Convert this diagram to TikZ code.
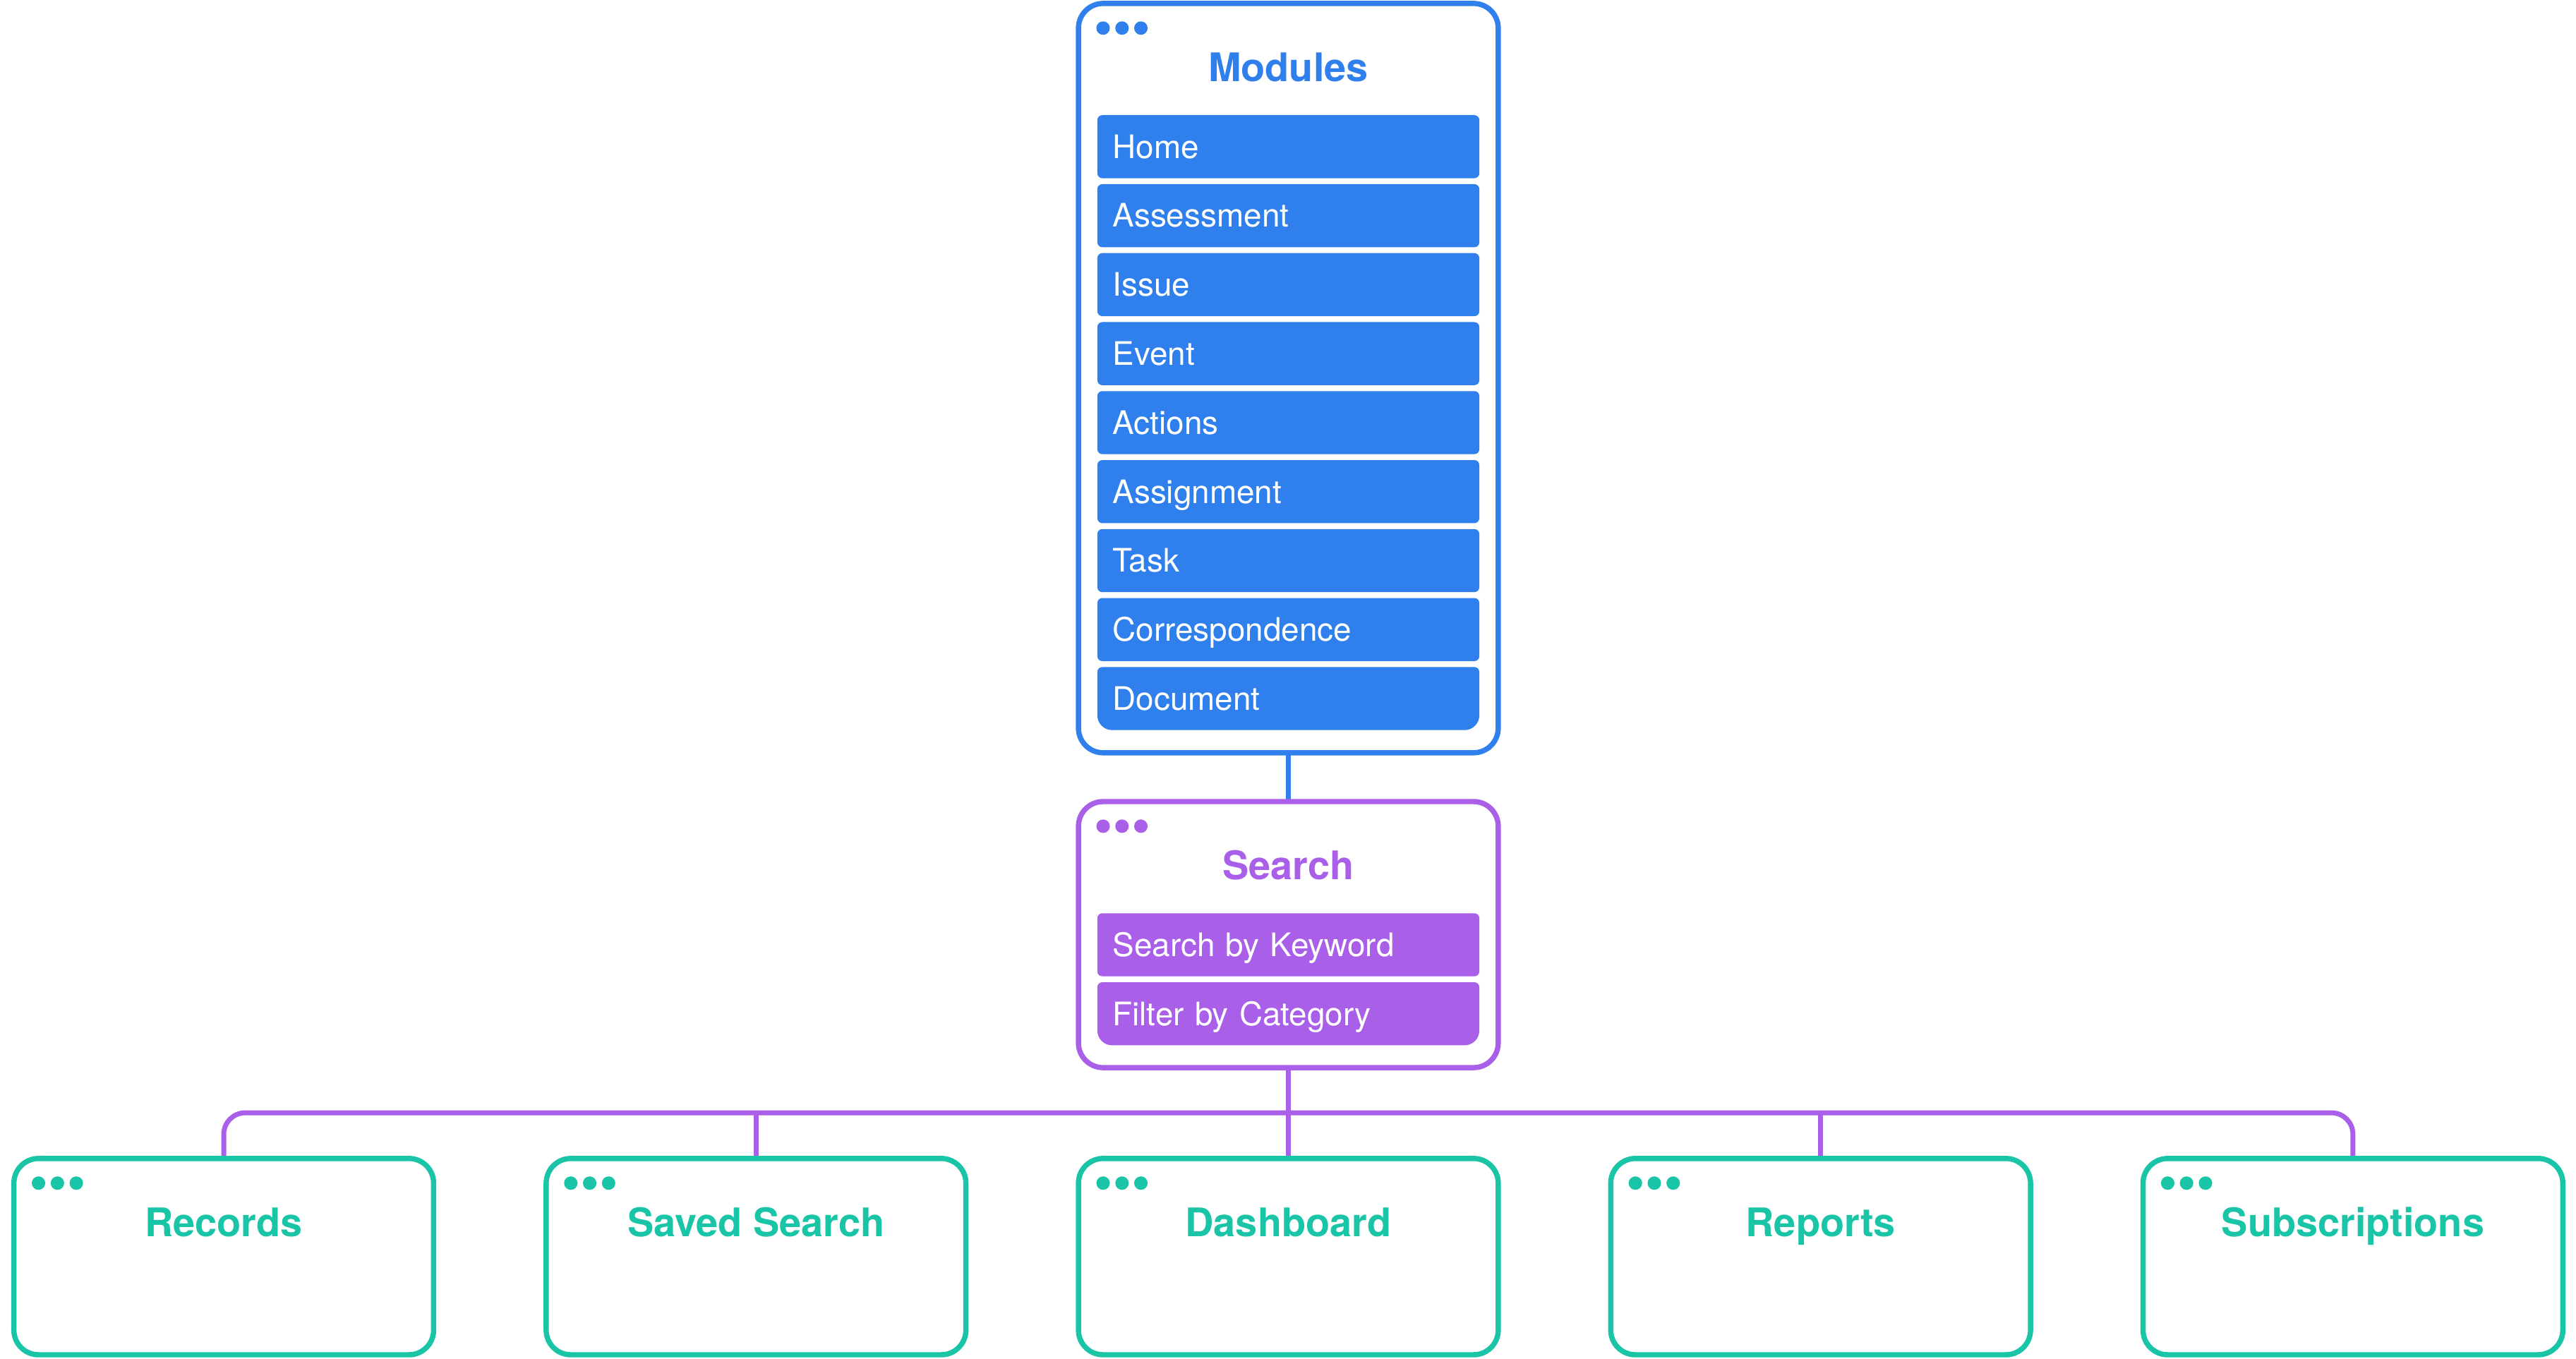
\documentclass[tikz,border=0pt]{standalone}
\usepackage{fontspec}
\setmainfont{TeX Gyre Heros}
\usetikzlibrary{positioning,backgrounds}
\definecolor{cmod}{HTML}{2F80ED}
\definecolor{csrch}{HTML}{A95FE8}
\definecolor{cview}{HTML}{1AC4A7}
\newcommand{\wdots}[2]{\foreach \d in {15pt,26.5pt,38pt}{\fill[#2] ([shift={(\d,-15pt)}]#1.north west) circle (4.1pt);}}
\tikzset{
	win/.style={draw=#1, line width=3.2pt, rounded corners=15pt, minimum width=255.5pt, inner sep=0pt, outer sep=0pt},
	item/.style={fill=#1, text=white, rounded corners=3pt, minimum width=232.5pt, minimum height=38.4pt,
		text width=213.9pt, inner xsep=9.3pt, inner ysep=0pt, outer sep=0pt, align=left,
		text height=14pt, text depth=0pt, font=\fontsize{19.7}{23}\selectfont},
	ttl/.style={text=#1, anchor=base, font=\bfseries\fontsize{24}{28}\selectfont},
	conn/.style={draw=#1, line width=3pt}
}

\begin{document}
\begin{tikzpicture}[x=1pt,y=-1pt]
\useasboundingbox (0,0) rectangle (1568,827);

\node[win=cmod, minimum height=456.2pt] (mods) at (784.2,230.2) {};
\node[win=csrch, minimum height=162pt, below=29.7pt of mods] (srch) {};
\node[win=cview, minimum height=119.5pt, below=55.3pt of srch] (dash) {};
\node[win=cview, minimum height=119.5pt, left=68.5pt of dash] (sav) {};
\node[win=cview, minimum height=119.5pt, left=68.5pt of sav] (rec) {};
\node[win=cview, minimum height=119.5pt, right=68.5pt of dash] (rep) {};
\node[win=cview, minimum height=119.5pt, right=68.5pt of rep] (sub) {};

\wdots{mods}{cmod} \wdots{srch}{csrch}
\wdots{rec}{cview} \wdots{sav}{cview} \wdots{dash}{cview} \wdots{rep}{cview} \wdots{sub}{cview}

\node[ttl=cmod] (modt) at ([yshift=-47.6pt]mods.north) {Modules};
\node[ttl=csrch] (srcht) at ([yshift=-47.6pt]srch.north) {Search};
\node[ttl=cview] (rect) at ([yshift=-47.6pt]rec.north) {Records};
\node[ttl=cview] (savt) at ([yshift=-47.6pt]sav.north) {Saved Search};
\node[ttl=cview] (dasht) at ([yshift=-47.6pt]dash.north) {Dashboard};
\node[ttl=cview] (rept) at ([yshift=-47.6pt]rep.north) {Reports};
\node[ttl=cview] (subt) at ([yshift=-47.6pt]sub.north) {Subscriptions};

% module list
\node[item=cmod, below=68pt of mods.north] (home) {Home};
\node[item=cmod, below=3.6pt of home] (asmt) {Assessment};
\node[item=cmod, below=3.6pt of asmt] (issue) {Issue};
\node[item=cmod, below=3.6pt of issue] (event) {Event};
\node[item=cmod, below=3.6pt of event] (act) {Actions};
\node[item=cmod, below=3.6pt of act] (asgn) {Assignment};
\node[item=cmod, below=3.6pt of asgn] (task) {Task};
\node[item=cmod, below=3.6pt of task] (corr) {Correspondence};
\node[item=none, below=3.6pt of corr] (doc) {Document};

% search list
\node[item=csrch, below=68pt of srch.north] (kw) {Search by Keyword};
\node[item=none, below=3.6pt of kw] (cat) {Filter by Category};

\begin{scope}[on background layer]
\fill[cmod] (doc.west) [rounded corners=3pt] |- (doc.north east) -- (doc.east) [rounded corners=9pt] |- (doc.south west) -- cycle;
\fill[csrch] (cat.west) [rounded corners=3pt] |- (cat.north east) -- (cat.east) [rounded corners=9pt] |- (cat.south west) -- cycle;
\coordinate (bus) at ([yshift=-27.5pt]srch.south);
\draw[conn=cmod] (mods.south) -- (srch.north);
\draw[conn=csrch] (srch.south) -- (dash.north);
\draw[conn=csrch, rounded corners=13pt] (rec.north) |- (bus) -| (sub.north);
\draw[conn=csrch] (sav.north) -- (sav.north |- bus);
\draw[conn=csrch] (rep.north) -- (rep.north |- bus);
\end{scope}
\end{tikzpicture}
\end{document}
